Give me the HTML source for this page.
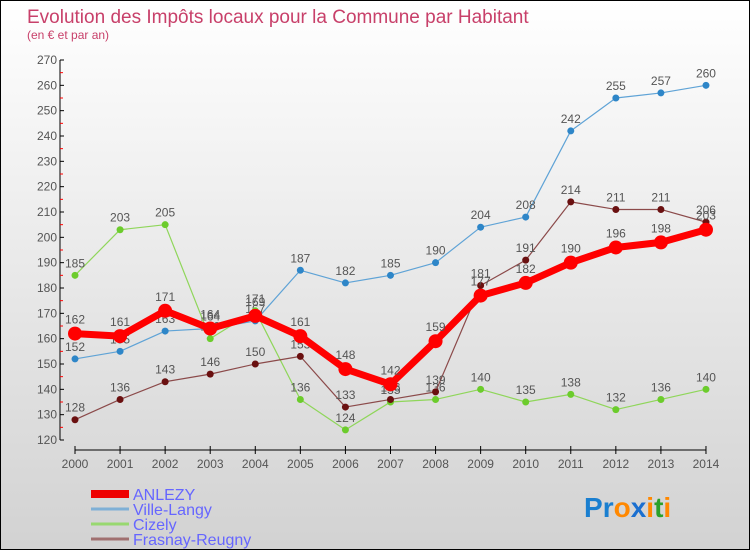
<!DOCTYPE html>
<html><head><meta charset="utf-8"><style>
body{margin:0;}
#c{width:748px;height:548px;border:1px solid #000;background:linear-gradient(#ffffff,#d2d2d2);position:relative;overflow:hidden;font-family:"Liberation Sans",sans-serif;}
svg{position:absolute;left:0;top:0;}
</style></head><body>
<div id="c">
<svg id="s" width="748" height="548">
<text x="26" y="22" font-size="19" fill="#c8406a">Evolution des Impôts locaux pour la Commune par Habitant</text>
<text x="26" y="38" font-size="12" fill="#c8406a">(en € et par an)</text>
</svg>
</div>
<script>
const years=["2000","2001","2002","2003","2004","2005","2006","2007","2008","2009","2010","2011","2012","2013","2014"];
const anlezy=[162,161,171,164,169,161,148,142,159,177,182,190,196,198,203];
const villeLangy=[152,155,163,164,167,187,182,185,190,204,208,242,255,257,260];
const cizely=[185,203,205,160,171,136,124,135,136,140,135,138,132,136,140];
const frasnay=[128,136,143,146,150,153,133,136,139,181,191,214,211,211,206];
const yTicks=[120,130,140,150,160,170,180,190,200,210,220,230,240,250,260,270];
const seriesNames=["ANLEZY","Ville-Langy","Cizely","Frasnay-Reugny"];
const NS="http://www.w3.org/2000/svg";
const s=document.getElementById('s');
function X(i){return 74+i*45.07;}
function Y(v){return 439-(v-120)*380/150;}
function el(t,a,p){const e=document.createElementNS(NS,t);for(const k in a)e.setAttribute(k,a[k]);(p||s).appendChild(e);return e;}
let ya=el('line',{x1:59,y1:Y(270),x2:59,y2:Y(120),stroke:'#000','stroke-width':1});


yTicks.forEach(v=>{
 el('line',{x1:59,y1:Y(v),x2:63,y2:Y(v),stroke:'#000'});
 if(v<270) el('line',{x1:59,y1:Y(v+5),x2:62,y2:Y(v+5),stroke:'#f00'});
 const t=el('text',{x:56,y:Y(v)+4,'font-size':12,fill:'#555','text-anchor':'end'});t.textContent=v;
 
 
});
let xa=el('line',{x1:X(0),y1:449,x2:X(14),y2:449,stroke:'#000'});


years.forEach((y,i)=>{
 el('line',{x1:X(i),y1:445,x2:X(i),y2:453,stroke:'#000'});
 const t=el('text',{x:X(i),y:467,'font-size':12,fill:'#555','text-anchor':'middle'});t.textContent=y;
 
 
});
function series(data,color,dot,w,r,name){
 const g=el('g',{});
 
 
 el('polyline',{points:data.map((v,i)=>X(i)+','+Y(v)).join(' '),fill:'none',stroke:color,'stroke-width':w,'stroke-linejoin':'round'},g);
 data.forEach((v,i)=>{
  const c=el('circle',{cx:X(i),cy:Y(v),r:r,fill:dot},g);
  
  
  const t=el('text',{x:X(i),y:Y(v)-8-(r>5?2:0),'font-size':12,fill:'#555','text-anchor':'middle'},g);t.textContent=v;
  
  
 });
}
series(villeLangy,'#5fa3d6','#2e86c8',1.2,3.5,'series-ville-langy');
series(cizely,'#8fd65a','#6ccc2c',1.2,3.5,'series-cizely');
series(frasnay,'#8b4a4a','#6a1010',1.2,3.5,'series-frasnay-reugny');
series(anlezy,'#f00','#f00',7,7,'series-anlezy');
const lc=['#ee0000','#7fb0d6','#98d870','#a07070'],lw=[8,3,3,3];
seriesNames.forEach((n,i)=>{
 const y=493+i*15;
 const g=el('g',{});
 
 
 el('line',{x1:90,y1:y,x2:128,y2:y,stroke:lc[i],'stroke-width':lw[i]},g);
 const t=el('text',{x:132,y:y+6,'font-size':16,fill:'#6666ff'},g);t.textContent=n;
});
const lg=el('text',{x:583,y:516,'font-size':28,'font-weight':'bold'});


[['P','#1a7fd0'],['r','#1a7fd0'],['o','#ff8800'],['x','#1a6fd0'],['i','#ff8800'],['t','#2aa02a'],['i','#ff8800']].forEach(([c,f])=>{const ts=el('tspan',{fill:f},lg);ts.textContent=c;});
</script>
</body></html>
